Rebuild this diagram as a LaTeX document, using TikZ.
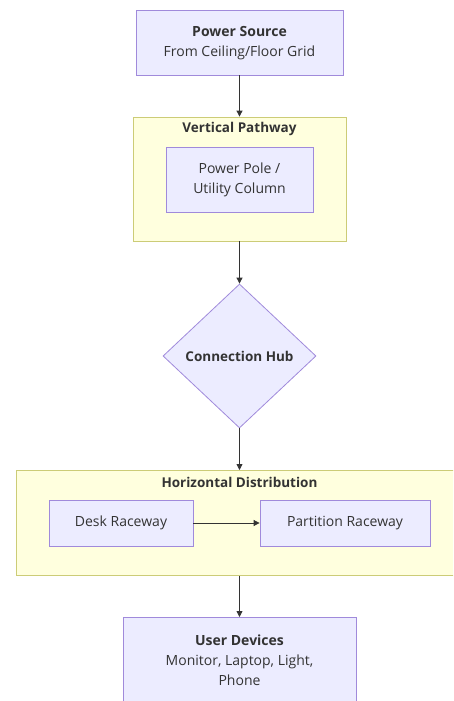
\documentclass[tikz,border=0pt]{standalone}
\usepackage{fontspec}
\setmainfont{Open Sans}
\usetikzlibrary{shapes.geometric,arrows.meta}
\definecolor{nodefill}{HTML}{ECECFF}
\definecolor{nodedraw}{HTML}{A08ADB}
\definecolor{clfill}{HTML}{FFFFDE}
\definecolor{cldraw}{HTML}{CCCC77}
\definecolor{ink}{HTML}{333333}
\tikzset{
  nodebox/.style={draw=nodedraw, fill=nodefill, line width=0.8pt, inner sep=0pt},
  clbox/.style={draw=cldraw, fill=clfill, line width=0.8pt, inner sep=0pt},
  lbl/.style={text=ink, font=\fontsize{14}{20}\selectfont, align=center},
  ttl/.style={text=ink, font=\fontsize{13.5}{20}\selectfont\bfseries},
  link/.style={draw=ink, line width=0.8pt, -{Triangle[length=6pt,width=6pt]}}
}
\begin{document}
\begin{tikzpicture}[x=1pt,y=-1pt]
\useasboundingbox (0,0) rectangle (453,701);
\clip (0,0) rectangle (453,701);
\fill[white] (0,0) rectangle (453,701);
% clusters
\node[clbox, minimum width=213pt, minimum height=124pt] (vp) at (239.5,179) {};
\node[ttl] (vpt) at (239.5,129) {Vertical Pathway};
\node[clbox, minimum width=460pt, minimum height=105pt, anchor=north west] (hd) at (16,470) {};
\node[ttl] (hdt) at (239.5,482) {Horizontal Distribution};
% nodes
\node[nodebox, minimum width=207pt, minimum height=65pt] (ps) at (239.5,42.5) {};
\node[lbl] (pst) at (239.5,43.5) {\textbf{Power Source}\\From Ceiling/Floor Grid};
\node[nodebox, minimum width=147pt, minimum height=65pt] (pp) at (239.5,179.5) {};
\node[lbl] (ppt) at (239.5,180) {Power Pole /\\Utility Column};
\node[nodebox, diamond, minimum width=153pt, minimum height=144pt, aspect=1.06] (hub) at (239.5,356) {};
\node[ttl] (hubt) at (239.5,356) {Connection Hub};
\node[nodebox, minimum width=144pt, minimum height=46pt] (desk) at (121,523) {};
\node[lbl] (deskt) at (121,523) {Desk Raceway};
\node[nodebox, minimum width=170pt, minimum height=46pt] (part) at (345,523) {};
\node[lbl] (partt) at (345,523) {Partition Raceway};
\node[nodebox, minimum width=233pt, minimum height=100pt, anchor=north] (ud) at (239.5,617) {};
\node[lbl] (udt) at (239.5,660.5) {\textbf{User Devices}\\Monitor, Laptop, Light,\\Phone};
% links
\draw[link] (ps.south) -- (vp.north);
\draw[link] (vp.south) -- (hub.north);
\draw[link] (hub.south) -- (hd.north -| hub.south);
\draw[link] (desk.east) -- (part.west);
\draw[link] (hd.south -| hub.south) -- (ud.north);
\end{tikzpicture}
\end{document}
